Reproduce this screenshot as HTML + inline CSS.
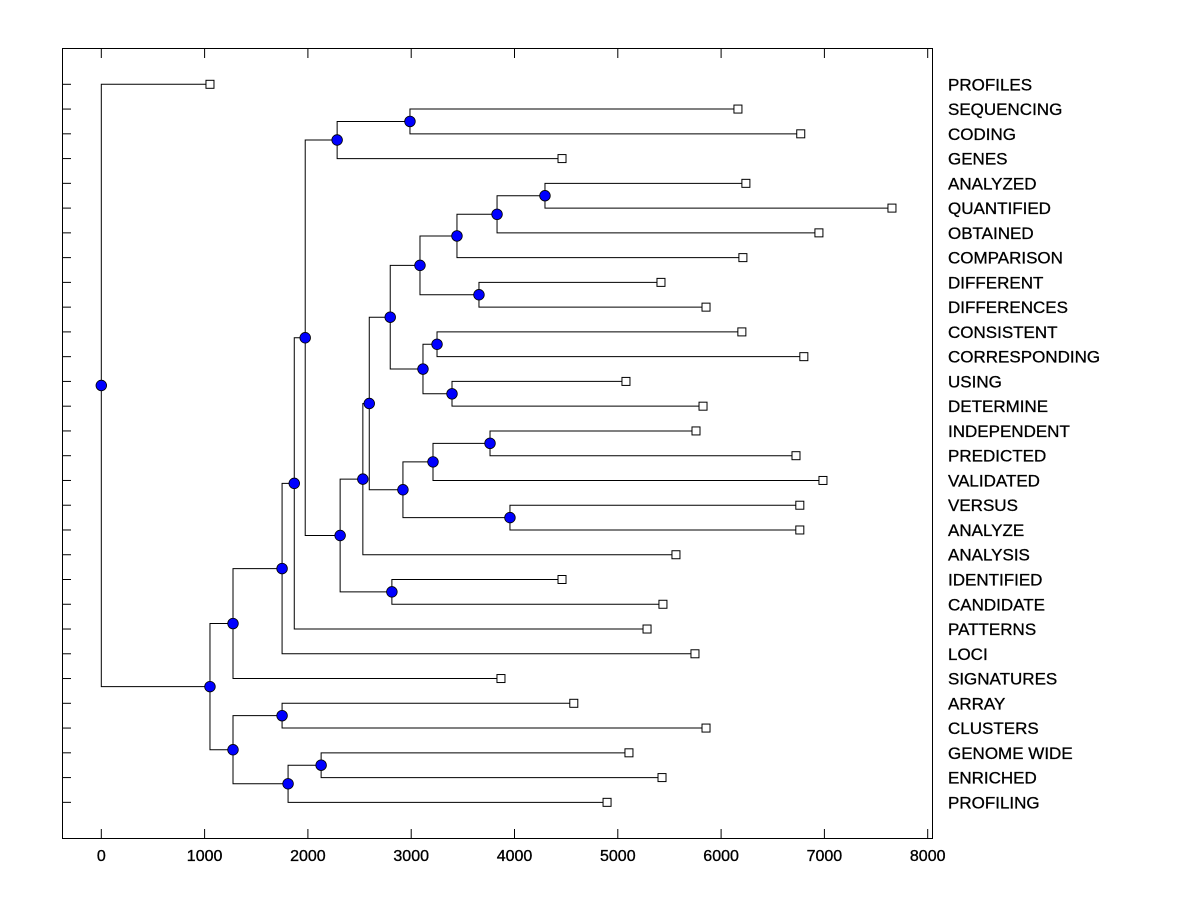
<!DOCTYPE html>
<html><head><meta charset="utf-8"><style>
html,body{margin:0;padding:0;background:#fff;}
svg text{font-family:"Liberation Sans",Arial,sans-serif;}
</style></head><body>
<svg id="chart" width="1200" height="900" xmlns="http://www.w3.org/2000/svg">
<rect x="62.5" y="48.5" width="870" height="790" fill="none" stroke="#000" stroke-width="1"/>
<g id="ticks"></g><g id="links"></g><g id="marks"></g><g id="labels"></g>
</svg>
<script>
const leafNames = ["PROFILES","SEQUENCING","CODING","GENES","ANALYZED","QUANTIFIED","OBTAINED","COMPARISON","DIFFERENT","DIFFERENCES","CONSISTENT","CORRESPONDING","USING","DETERMINE","INDEPENDENT","PREDICTED","VALIDATED","VERSUS","ANALYZE","ANALYSIS","IDENTIFIED","CANDIDATE","PATTERNS","LOCI","SIGNATURES","ARRAY","CLUSTERS","GENOME WIDE","ENRICHED","PROFILING"];
const leafValues = [1052,6163,6771,4460,6240,7654,6947,6211,5418,5854,6201,6801,5079,5825,5757,6725,6986,6762,6762,5563,4460,5437,5283,5747,3869,4574,5854,5108,5428,4896];
const mergeIds    = ["I","G","T","S","Q","R","O","U","V","P","M","Y","W","X","N","L","J","K","H","F","E","D","B","Z","AB","AA","C","A","root"];
const mergeLeft   = [1,"I",4,"T","S",8,"Q",10,12,"U","O",14,"Y",17,"W","M","L",20,"J","G","F","E","D",25,27,"AB","Z","B",0];
const mergeRight  = [2,3,5,6,7,9,"R",11,13,"V","P",15,16,18,"X","N",19,21,"K","H",22,23,24,26,28,29,"AA","C","A"];
const mergeHeight = [2988,2283,4295,3831,3443,3656,3085,3250,3395,3114,2797,3763,3211,3956,2920,2594,2532,2813,2312,1974,1868,1750,1275,1750,2128,1808,1275,1052,0];
const xTicks = [0,1000,2000,3000,4000,5000,6000,7000,8000];

const NS="http://www.w3.org/2000/svg";
const X0=101.3, XS=0.1033;
function xs(v){return X0+v*XS;}
function ys(i){return 84.3+i*24.76;}
function mk(tag,attrs,parent){const e=document.createElementNS(NS,tag);for(const k in attrs)e.setAttribute(k,attrs[k]);document.getElementById(parent).appendChild(e);return e;}

xTicks.forEach(t=>{
  const x=xs(t);
  let a=mk("line",{x1:x,x2:x,y1:838,y2:829,stroke:"#000"},"ticks");
  
  
  let b=mk("line",{x1:x,x2:x,y1:49,y2:58,stroke:"#000"},"ticks");
  
  
  let tx=mk("text",{x:x,y:861,"text-anchor":"middle","font-size":"16",stroke:"#000","stroke-width":"0.35"},"labels");
  tx.textContent=t;
  
  
});
leafNames.forEach((n,i)=>{
  const y=ys(i);
  let a=mk("line",{x1:62,x2:71,y1:y,y2:y,stroke:"#000"},"ticks");
  
  
  let tx=mk("text",{x:948,y:y+6,"font-size":"17",stroke:"#000","stroke-width":"0.3"},"labels");
  tx.textContent=n;
  
  
});

const pos={};
leafNames.forEach((n,i)=>{pos[i]={x:leafValues[i],y:ys(i)};});
const mIdx={};mergeIds.forEach((id,k)=>mIdx[id]=k);
function getPos(id){
  if(pos[id])return pos[id];
  const k=mIdx[id];const l=getPos(mergeLeft[k]),r=getPos(mergeRight[k]);
  pos[id]={x:mergeHeight[k],y:(l.y+r.y)/2};return pos[id];
}
mergeIds.forEach((id,k)=>{
  const p=getPos(id),l=getPos(mergeLeft[k]),r=getPos(mergeRight[k]);
  const x=xs(p.x);
  let path=mk("path",{d:`M${xs(l.x)},${l.y}H${x}V${r.y}H${xs(r.x)}`,fill:"none",stroke:"#000","stroke-width":"1"},"links");
  
  
});
mergeIds.forEach((id,k)=>{
  const p=pos[id];
  let c=mk("circle",{cx:xs(p.x),cy:p.y,r:5.3,fill:"#0000ff",stroke:"#000","stroke-width":"0.8"},"marks");
  
  
});
leafNames.forEach((n,i)=>{
  const p=pos[i];
  let s=mk("rect",{x:xs(p.x)-4,y:p.y-4,width:8,height:8,fill:"#fff",stroke:"#000","stroke-width":"1"},"marks");
  
  
});
</script>
</body></html>
